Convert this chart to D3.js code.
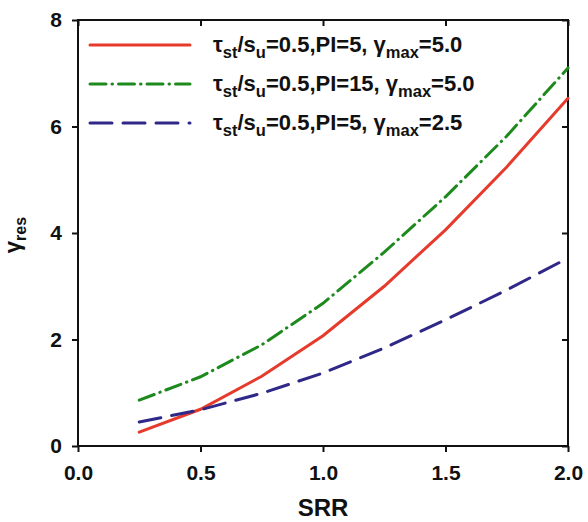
<!DOCTYPE html>
<html><head><meta charset="utf-8">
<script src="https://cdn.jsdelivr.net/npm/d3@7"></script>
<style>body{margin:0;background:#fff}</style>
</head><body>
<svg id="c" width="588" height="522"></svg>
<script>
const srr = [0.25, 0.5, 0.75, 1.0, 1.25, 1.5, 1.75, 2.0];
const redVals = [0.26, 0.69, 1.31, 2.07, 3.0, 4.06, 5.24, 6.53];
const greenVals = [0.86, 1.3, 1.9, 2.68, 3.64, 4.68, 5.82, 7.1];
const blueVals = [0.45, 0.68, 0.99, 1.37, 1.84, 2.37, 2.93, 3.53];
const xTicks = [0, 0.5, 1.0, 1.5, 2.0];
const yTicks = [0, 2, 4, 6, 8];
const legendPI = ["5", "15", "5"];
const legendGmax = ["5.0", "5.0", "2.5"];

const svg = d3.select("#c");
const L = 78, R = 568, T = 20, B = 446;
const x = d3.scaleLinear().domain([0, 2]).range([L, R]);
const y = d3.scaleLinear().domain([0, 8]).range([B, T]);
const font = "Arial, 'Liberation Sans', sans-serif";

// frame
svg.append("rect").attr("x", L).attr("y", T).attr("width", R - L).attr("height", B - T)
  .attr("fill", "none").attr("stroke", "#111").attr("stroke-width", 2);

const styleAxis = (g) => {
  g.select(".domain").remove();
  g.selectAll("line").attr("stroke", "#111").attr("stroke-width", 2);
  g.selectAll("text").attr("font-family", font).attr("font-weight", "bold").attr("font-size", 21).attr("fill", "#111");
};
svg.append("g").attr("transform", `translate(0,${B})`)
  .call(d3.axisBottom(x).tickValues(xTicks).tickFormat(d3.format(".1f")).tickSize(6).tickPadding(13))
  .call(styleAxis);
svg.append("g").attr("transform", `translate(${L},0)`)
  .call(d3.axisLeft(y).tickValues(yTicks).tickFormat(d3.format("d")).tickSize(6).tickPadding(10))
  .call(styleAxis);
svg.append("g").attr("transform", `translate(0,${T})`)
  .call(d3.axisTop(x).tickValues(xTicks).tickFormat("").tickSize(-6))
  .call(styleAxis);
svg.append("g").attr("transform", `translate(${R},0)`)
  .call(d3.axisRight(y).tickValues(yTicks).tickFormat("").tickSize(-6))
  .call(styleAxis);

const series = [
  {vals: redVals, color: "#e53a2c", dash: null},
  {vals: greenVals, color: "#1e8a1e", dash: "16,6,0.5,6"},
  {vals: blueVals, color: "#2f2888", dash: "22,11"}
];
const line = d3.line().x((d, i) => x(srr[i])).y(d => y(d));
series.forEach(s => {
  svg.append("path").datum(s.vals).attr("d", line).attr("fill", "none")
    .attr("stroke", s.color).attr("stroke-width", 3)
    .attr("stroke-linecap", "round")
    .attr("stroke-dasharray", s.dash);
});

// legend
const ly = [45, 84, 123];
series.forEach((s, i) => {
  svg.append("line").attr("x1", 90).attr("x2", 190).attr("y1", ly[i]).attr("y2", ly[i])
    .attr("stroke", s.color).attr("stroke-width", 3).attr("stroke-linecap", "round")
    .attr("stroke-dasharray", s.dash);
  const t = svg.append("text").attr("x", 213).attr("y", ly[i] + 7)
    .attr("font-family", font).attr("font-weight", "bold").attr("font-size", 22).attr("fill", "#111");
  t.append("tspan").text("τ");
  t.append("tspan").attr("font-size", 16.5).attr("dy", 6).text("st");
  t.append("tspan").attr("dy", -6).text("/s");
  t.append("tspan").attr("font-size", 16.5).attr("dy", 6).text("u");
  t.append("tspan").attr("dy", -6).text(`=0.5,PI=${legendPI[i]}, γ`);
  t.append("tspan").attr("font-size", 16.5).attr("dy", 6).text("max");
  t.append("tspan").attr("dy", -6).text(`=${legendGmax[i]}`);
});

// axis titles
svg.append("text").attr("x", (L + R) / 2).attr("y", 516).attr("text-anchor", "middle")
  .attr("font-family", font).attr("font-weight", "bold").attr("font-size", 24).attr("fill", "#111").text("SRR");
const yl = svg.append("text").attr("transform", "translate(20,235) rotate(-90)").attr("text-anchor", "middle")
  .attr("font-family", font).attr("font-weight", "bold").attr("font-size", 22).attr("fill", "#111");
yl.append("tspan").text("γ");
yl.append("tspan").attr("font-size", 16).attr("dy", 6).text("res");
</script>
</body></html>
